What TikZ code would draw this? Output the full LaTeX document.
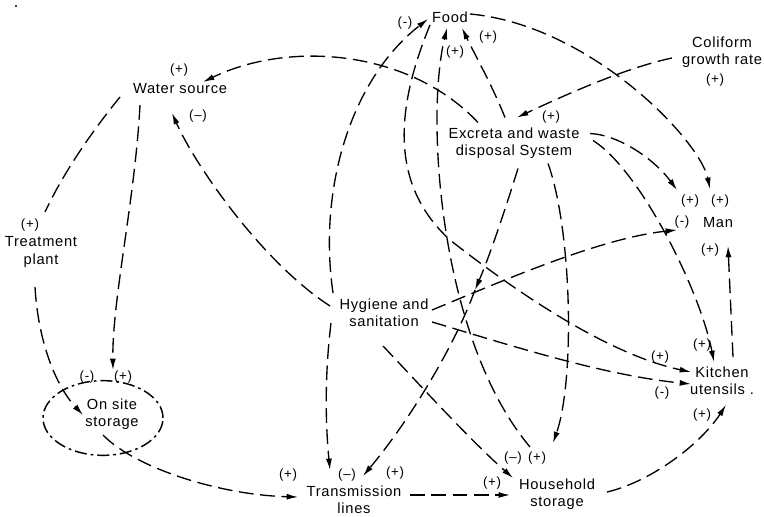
\documentclass[tikz,border=0pt]{standalone}
\usepackage{fontspec}
\setmainfont{Liberation Sans}[LetterSpace=5]
\usetikzlibrary{arrows.meta}
\tikzset{
  txt/.style={inner sep=0pt,align=center,font=\fontsize{11}{13}\selectfont},
  sgn/.style={inner sep=0pt,font=\fontsize{10}{11}\selectfont},
  link/.style={line width=1pt,dash pattern=on 11pt off 5pt},
  arr/.style={link,-{Latex[length=8.5pt,width=4.5pt]}},
  loopline/.style={line width=1.1pt,dash pattern=on 9pt off 3pt on 2pt off 3pt}
}
\begin{document}
\begin{tikzpicture}[x=0.75pt,y=-0.75pt]
\fill[white] (0,0) rectangle (764,517);
\useasboundingbox (0,0) rectangle (764,517);
\fill[black] (16,6) circle (0.9pt);
% main nodes
\node[txt] (food) at (450,17) {Food};
\node[txt] (water) at (180,89) {Water source};
\node[txt] (coli) at (722,52) {Coliform\\growth rate};
\node[txt] (exc) at (514,143.5) {Excreta and waste\\disposal System};
\node[txt] (man) at (718,223) {Man};
\node[txt] (treat) at (41,252) {Treatment\\plant};
\node[txt] (hyg) at (384,313) {Hygiene and\\sanitation};
\node[txt] (kit) at (722,381) {Kitchen\\utensils .};
\node[txt] (onsite) at (112,414) {On site\\storage};
\node[txt] (trans) at (354,500) {Transmission\\lines};
\node[txt] (house) at (557,494) {Household\\storage};
% signs
\node[sgn] (s1) at (405,23) {(-)};
\node[sgn] (s2) at (455,52) {(+)};
\node[sgn] (s3) at (488,37) {(+)};
\node[sgn] (s4) at (179,70) {(+)};
\node[sgn] (s5) at (198,116) {(--)};
\node[sgn] (s6) at (715,80) {(+)};
\node[sgn] (s7) at (551,117) {(+)};
\node[sgn] (s8) at (690,201) {(+)};
\node[sgn] (s9) at (720,201) {(+)};
\node[sgn] (s10) at (682,222) {(-)};
\node[sgn] (s11) at (710,250) {(+)};
\node[sgn] (s12) at (30,225) {(+)};
\node[sgn] (s13) at (660,357) {(+)};
\node[sgn] (s14) at (662,393) {(-)};
\node[sgn] (s15) at (702,345) {(+)};
\node[sgn] (s16) at (702,415) {(+)};
\node[sgn] (s17) at (87,377) {(-)};
\node[sgn] (s18) at (123,377) {(+)};
\node[sgn] (s19) at (288,475) {(+)};
\node[sgn] (s20) at (347,475) {(--)};
\node[sgn] (s21) at (395,473) {(+)};
\node[sgn] (s22) at (513,458) {(--)};
\node[sgn] (s23) at (537,458) {(+)};
\node[sgn] (s24) at (492,483) {(+)};
% loop around on site storage
\draw[loopline] ([shift={(-9,4)}]onsite.center) ellipse [x radius=45pt, y radius=28pt];
% connectors
\draw[arr] ([shift={(-36,-21)}]exc.center) .. controls (410,50) and (290,40) .. ([shift={(23,-7)}]water.center);
\draw[arr] ([shift={(-50,6)}]coli.center) .. controls (625,68) and (565,95) .. ([shift={(3,-26)}]exc.center);
\draw[arr] ([shift={(-9,-26)}]exc.center) .. controls (492,85) and (475,55) .. ([shift={(12,11)}]food.center);
\draw[arr] ([shift={(-27,-47)}]house.center) .. controls (440,340) and (425,120) .. ([shift={(-3,11)}]food.center);
\draw[arr] ([shift={(-20,8)}]food.center) .. controls (395,110) and (390,185) .. (450,240) .. controls (520,295) and (610,355) .. ([shift={(-31,-9)}]kit.center);
\draw[arr] ([shift={(-51,-20)}]hyg.center) .. controls (318,190) and (350,80) .. ([shift={(-22,2)}]food.center);
\draw[arr] ([shift={(-54,-7)}]hyg.center) .. controls (262,262) and (195,165) .. ([shift={(-8,24)}]water.center);
\draw[arr] ([shift={(-53,10)}]hyg.center) .. controls (324,380) and (326,430) .. ([shift={(-24,-30)}]trans.center);
\draw[arr] ([shift={(48,-3)}]hyg.center) .. controls (500,282) and (600,238) .. ([shift={(-41,7)}]man.center);
\draw[arr] ([shift={(48,9)}]hyg.center) .. controls (500,342) and (600,375) .. ([shift={(-31,3)}]kit.center);
\draw[arr] ([shift={(-1,33)}]hyg.center) .. controls (420,385) and (470,440) .. ([shift={(-44,-16)}]house.center);
\coordinate (excmid) at (475,290);
\draw[arr] ([shift={(4,25)}]exc.center) .. controls (505,210) and (490,255) .. (excmid);
\draw[arr] (excmid) .. controls (455,345) and (410,420) .. ([shift={(9,-24)}]trans.center);
\draw[arr] ([shift={(34,20)}]exc.center) .. controls (572,230) and (575,380) .. ([shift={(-4,-51)}]house.center);
\draw[arr] ([shift={(76,-10)}]exc.center) .. controls (620,135) and (655,160) .. ([shift={(-41,-33)}]man.center);
\draw[arr] ([shift={(79,-3)}]exc.center) .. controls (640,170) and (700,290) .. ([shift={(-8,-19)}]kit.center);
\draw[arr] ([shift={(20,-3)}]food.center) .. controls (590,25) and (700,140) .. ([shift={(-8,-34)}]man.center);
\draw[arr] ([shift={(11,-24)}]kit.center) -- ([shift={(10,23)}]man.center);
\draw[arr] ([shift={(50,-2)}]house.center) .. controls (650,482) and (700,445) .. ([shift={(4,24)}]kit.center);
\draw[arr] ([shift={(56,-5)}]trans.center) -- ([shift={(-47,1)}]house.center);
\draw[arr] ([shift={(-9,21)}]onsite.center) .. controls (135,468) and (220,495) .. ([shift={(-56,-3)}]trans.center);
\draw[arr] ([shift={(-40,16)}]water.center) .. controls (135,200) and (112,300) .. ([shift={(1,-44)}]onsite.center);
\draw[link] ([shift={(-60,8)}]water.center) .. controls (85,140) and (60,180) .. ([shift={(4,-40)}]treat.center);
\draw[arr] ([shift={(-6,35)}]treat.center) .. controls (38,340) and (55,385) .. ([shift={(-29,1)}]onsite.center);
\end{tikzpicture}
\end{document}
